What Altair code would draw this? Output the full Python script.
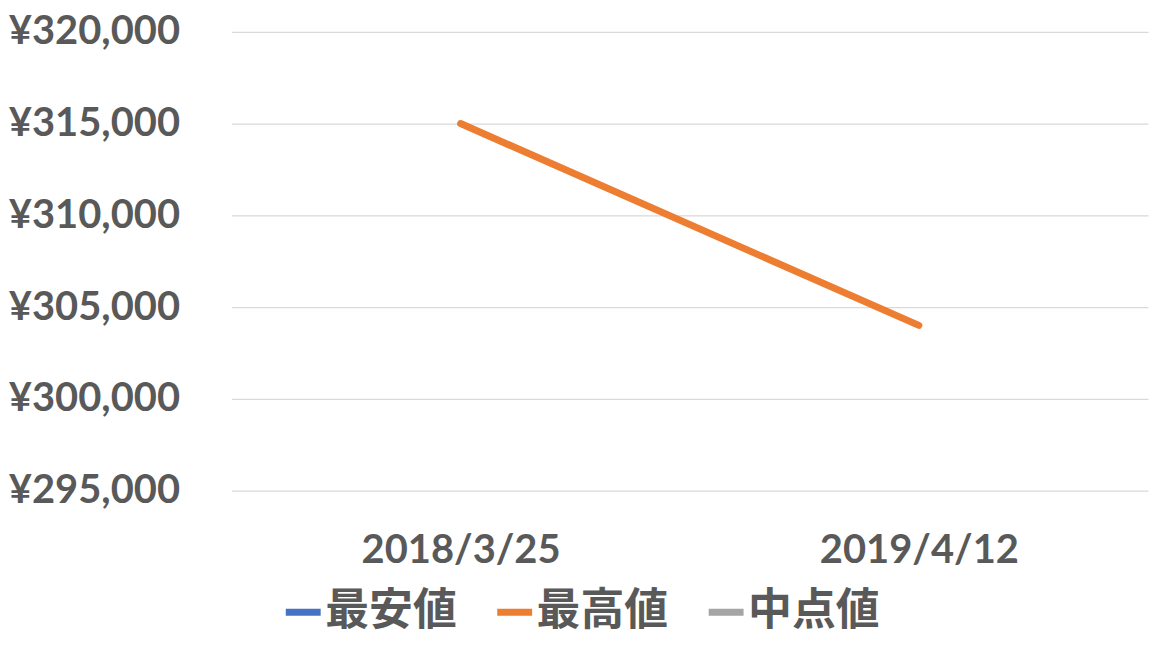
import altair as alt
import pandas as pd

dates = ["2018/3/25", "2019/4/12"]
series_names = ["最安値", "最高値", "中点値"]
low_values = [259800, 254000]
high_values = [315000, 304000]
mid_values = [287400, 279000]
colors = ["#4472C4", "#ED7D31", "#A5A5A5"]

rows = []
for name, vals in zip(series_names, [low_values, high_values, mid_values]):
    for d, v in zip(dates, vals):
        rows.append({"date": d, "series": name, "value": v})
df = pd.DataFrame(rows)

chart = alt.Chart(df).mark_line(
    strokeWidth=7, strokeCap="round", clip=True
).encode(
    x=alt.X("date:N", sort=dates, title=None,
            scale=alt.Scale(type="point", padding=0.5),
            axis=alt.Axis(labelAngle=0, domain=False, ticks=False, grid=False,
                          labelFont="Lato", labelFontWeight="bold", labelFontSize=40,
                          labelColor="#595959", labelPadding=40, labelLimit=500)),
    y=alt.Y("value:Q", title=None,
            scale=alt.Scale(domain=[295000, 320000], nice=False, zero=False),
            axis=alt.Axis(values=[295000, 300000, 305000, 310000, 315000, 320000],
                          labelExpr="'¥' + format(datum.value, ',')",
                          domain=False, ticks=False, grid=True,
                          gridColor="#D9D9D9", gridWidth=1.3,
                          labelFont="Lato", labelFontWeight="bold", labelFontSize=40,
                          labelColor="#595959", labelPadding=52, labelLimit=500)),
    color=alt.Color("series:N", title=None,
                    scale=alt.Scale(domain=series_names, range=colors),
                    legend=alt.Legend(orient="none", legendX=50, legendY=560,
                                      direction="horizontal",
                                      symbolType="stroke", symbolSize=1225,
                                      symbolStrokeWidth=7, labelFontSize=44,
                                      labelFont="Noto Sans CJK JP", labelFontWeight="bold",
                                      labelColor="#595959", labelOffset=0,
                                      columnPadding=26, labelLimit=400)),
).properties(
    width=919, height=460,
    padding={"left": 0, "top": 3, "right": 7, "bottom": 20},
).configure_view(stroke=None)

chart.save("out.html", embed_options={"renderer": "svg", "actions": False})
